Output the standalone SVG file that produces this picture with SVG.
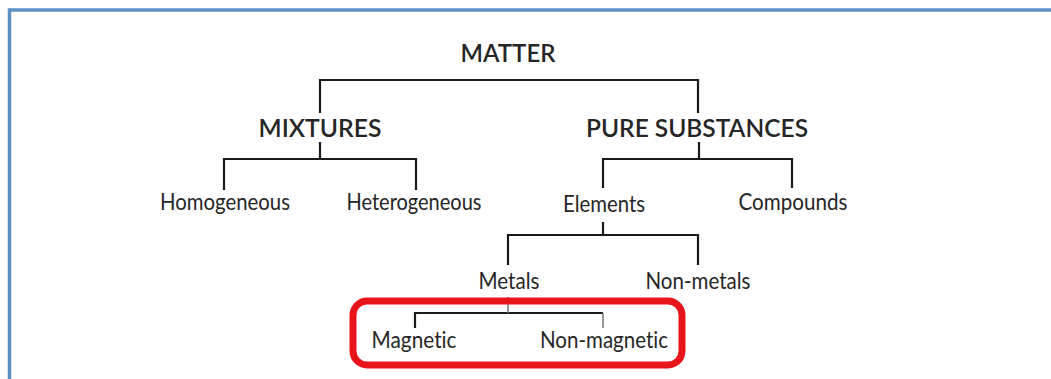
<svg xmlns="http://www.w3.org/2000/svg" width="1051" height="379" viewBox="0 0 1051 379">
  <style>
    .t { font-family: Lato, "Open Sans", "Liberation Sans", sans-serif; fill: #262626; text-anchor: middle; font-variant-ligatures: none; }
    .h { font-size: 24px; font-weight: 600; }
    .n { font-size: 23px; }
    .c { fill: none; stroke: #1a1a1a; stroke-width: 2.2; }
  </style>
  <rect x="0" y="0" width="1051" height="379" fill="#ffffff"/>
  <path d="M9.5 379 V10 H1051" fill="none" stroke="#5e90c8" stroke-width="3.5"/>
  <g id="connectors">
    <path class="c" d="M320 113 V80 H698 V113"/>
    <path class="c" d="M320 142 V159 M224 190 V159 H416 V190"/>
    <path class="c" d="M699 142 V159 M603 188 V159 H792 V188"/>
    <path class="c" d="M603 222 V235 M508 265 V235 H698 V265"/>
    <path class="c" d="M415 328 V313 H603"/>
    <path d="M508 297 V313 M603 313 V328" fill="none" stroke="#777" stroke-width="1.5"/>
  </g>
  <g id="highlight">
    <rect x="353" y="301" width="329" height="64" rx="14" fill="none" stroke="#e8141c" stroke-width="7"/>
  </g>
  <g id="matter"><text class="t h" x="508" y="62" textLength="95" lengthAdjust="spacingAndGlyphs">MATTER</text></g>
  <g id="mixtures"><text class="t h" x="320" y="137" textLength="123" lengthAdjust="spacingAndGlyphs">MIXTURES</text></g>
  <g id="pure"><text class="t h" x="697" y="137" textLength="222" lengthAdjust="spacingAndGlyphs">PURE SUBSTANCES</text></g>
  <g id="homogeneous"><text class="t n" x="225" y="210" textLength="130" lengthAdjust="spacingAndGlyphs">Homogeneous</text></g>
  <g id="heterogeneous"><text class="t n" x="414" y="210" textLength="135" lengthAdjust="spacingAndGlyphs">Heterogeneous</text></g>
  <g id="elements"><text class="t n" x="604" y="212" textLength="82" lengthAdjust="spacingAndGlyphs">Elements</text></g>
  <g id="compounds"><text class="t n" x="793" y="210" textLength="109" lengthAdjust="spacingAndGlyphs">Compounds</text></g>
  <g id="metals"><text class="t n" x="509" y="289" textLength="61" lengthAdjust="spacingAndGlyphs">Metals</text></g>
  <g id="nonmetals"><text class="t n" x="698" y="289" textLength="105" lengthAdjust="spacingAndGlyphs">Non-metals</text></g>
  <g id="magnetic"><text class="t n" x="414" y="348" textLength="85" lengthAdjust="spacingAndGlyphs">Magnetic</text></g>
  <g id="nonmagnetic"><text class="t n" x="604" y="348" textLength="128" lengthAdjust="spacingAndGlyphs">Non-magnetic</text></g>
</svg>
